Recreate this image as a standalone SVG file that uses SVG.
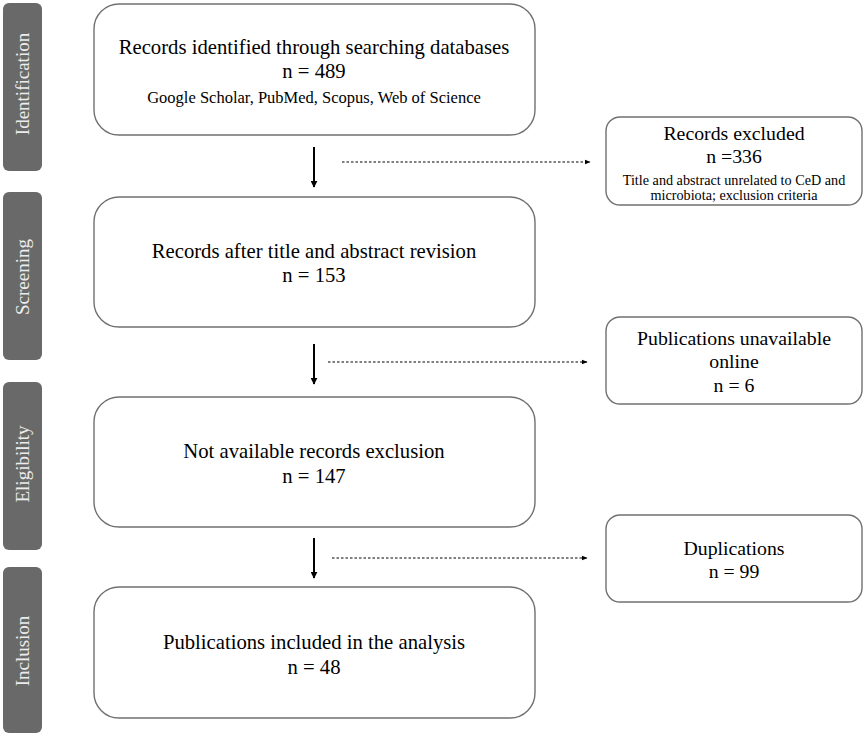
<svg xmlns="http://www.w3.org/2000/svg" width="864" height="739" viewBox="0 0 864 739">
<defs>
<style>
.bar{fill:#696969;}
.bt{fill:#ececec;font-family:"Liberation Serif",serif;font-size:19px;text-anchor:middle;}
.box{fill:#fff;stroke:#707070;stroke-width:1.4;}
.t{fill:#000;font-family:"Liberation Serif",serif;text-anchor:middle;}
.l{font-size:20.7px;}
.m{font-size:19.8px;}
.s{font-size:16.5px;}
.xs{font-size:14.2px;}
.solid{stroke:#000;stroke-width:2;fill:none;}
.dot{stroke:#000;stroke-width:1;stroke-dasharray:2.5,2;fill:none;}
</style>
<marker id="ah" viewBox="0 0 10 10" refX="9" refY="5" markerWidth="3.5" markerHeight="3.5" orient="auto" markerUnits="strokeWidth"><path d="M0,0 L10,5 L0,10 z" fill="#000"/></marker>
<marker id="ahs" viewBox="0 0 10 10" refX="9" refY="5" markerWidth="6" markerHeight="6" orient="auto" markerUnits="strokeWidth"><path d="M0,1 L10,5 L0,9 z" fill="#000"/></marker>
</defs>
<rect width="864" height="739" fill="#fff"/>
<g id="phase-identification"><rect class="bar" x="3" y="3" width="39" height="168" rx="6"/><text class="bt" transform="translate(29,84) rotate(-90)">Identification</text></g>
<g id="phase-screening"><rect class="bar" x="3" y="192" width="39" height="168" rx="6"/><text class="bt" transform="translate(29,277) rotate(-90)">Screening</text></g>
<g id="phase-eligibility"><rect class="bar" x="3" y="382" width="39" height="168" rx="6"/><text class="bt" transform="translate(29,464) rotate(-90)">Eligibility</text></g>
<g id="phase-inclusion"><rect class="bar" x="3" y="567" width="39" height="166" rx="6"/><text class="bt" transform="translate(29,651) rotate(-90)">Inclusion</text></g>

<g id="box-identified"><rect class="box" x="94" y="4" width="441" height="131" rx="25"/>
<text class="t l" x="314" y="54">Records identified through searching databases</text>
<text class="t l" x="314" y="78">n = 489</text>
<text class="t s" x="314" y="103">Google Scholar, PubMed, Scopus, Web of Science</text></g>
<g id="box-screened"><rect class="box" x="94" y="197" width="441" height="130" rx="25"/>
<text class="t l" x="314" y="258">Records after title and abstract revision</text>
<text class="t l" x="314" y="282">n = 153</text></g>
<g id="box-eligible"><rect class="box" x="94" y="397" width="441" height="130" rx="25"/>
<text class="t l" x="314" y="458">Not available records exclusion</text>
<text class="t l" x="314" y="483">n = 147</text></g>
<g id="box-included"><rect class="box" x="94" y="587" width="441" height="131" rx="25"/>
<text class="t l" x="314" y="649">Publications included in the analysis</text>
<text class="t l" x="314" y="674">n = 48</text></g>

<g id="box-excluded"><rect class="box" x="606" y="117" width="256" height="88" rx="14"/>
<text class="t m" x="734" y="140">Records excluded</text>
<text class="t m" x="734" y="163">n =336</text>
<text class="t xs" x="734" y="185">Title and abstract unrelated to CeD and</text>
<text class="t xs" x="734" y="200">microbiota; exclusion criteria</text></g>
<g id="box-unavailable"><rect class="box" x="606" y="317" width="256" height="87" rx="14"/>
<text class="t m" x="734" y="345">Publications unavailable</text>
<text class="t m" x="734" y="368">online</text>
<text class="t m" x="734" y="392">n = 6</text></g>
<g id="box-duplications"><rect class="box" x="606" y="515" width="256" height="87" rx="14"/>
<text class="t m" x="734" y="555">Duplications</text>
<text class="t m" x="734" y="578">n = 99</text></g>

<g id="connectors">
<line class="solid" x1="314" y1="147" x2="314" y2="187" marker-end="url(#ah)"/>
<line class="dot" x1="342" y1="162" x2="590" y2="162" marker-end="url(#ahs)"/>
<line class="solid" x1="314" y1="344" x2="314" y2="384" marker-end="url(#ah)"/>
<line class="dot" x1="328" y1="362" x2="587" y2="362" marker-end="url(#ahs)"/>
<line class="solid" x1="314" y1="538" x2="314" y2="578" marker-end="url(#ah)"/>
<line class="dot" x1="332" y1="558" x2="587" y2="558" marker-end="url(#ahs)"/>
</g>
</svg>
